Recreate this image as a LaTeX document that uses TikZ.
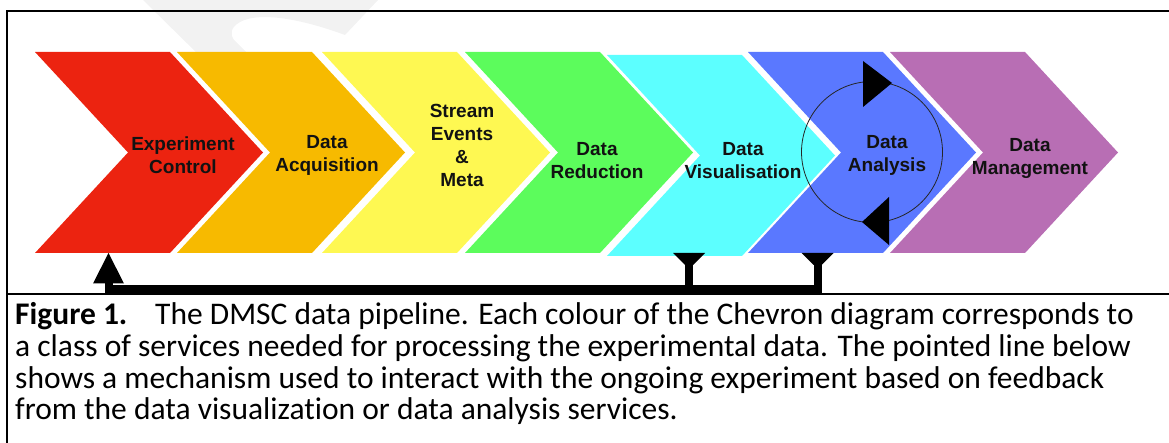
\documentclass[tikz,border=0pt]{standalone}
\usepackage{fontspec}
\setmainfont{Carlito}[RawFeature={-liga;-clig;-dlig;-calt}]
\newfontfamily\chevfont{Liberation Sans}
\definecolor{cred}{HTML}{EC2310}
\definecolor{corange}{HTML}{F7BA00}
\definecolor{cyellow}{HTML}{FEF852}
\definecolor{cgreen}{HTML}{5CFC5C}
\definecolor{ccyan}{HTML}{5CFFFF}
\definecolor{cblue}{HTML}{5A78FF}
\definecolor{cpurple}{HTML}{B86EB4}
\begin{document}
\begin{tikzpicture}[x=1pt,y=-1pt,
  lbl/.style={align=center,inner sep=0pt,text=black!93,font=\chevfont\bfseries\fontsize{19}{23}\selectfont},
  captxt/.style={anchor=base west,inner sep=0pt,font=\fontsize{31.5}{31.5}\selectfont},
  framestyle/.style={line width=2pt,black},
  fbline/.style={line width=8pt,black}]
\useasboundingbox (0,0) rectangle (1169,443);
% watermark
\fill[black,opacity=0.05] (143,0) -- (378,0) -- (345,35) .. controls (310,22) and (262,10) .. (240,22) .. controls (230,28) and (230,34) .. (234,40) -- (287,93) -- (262,117) -- cycle;
% chevrons: left x, top y
\newcommand{\chev}[3]{%
  \fill[#3] (#1,#2) -- ++(135,0) -- ++(93,100.5) -- ++(-93,100.5) -- ++(-135,0) -- ++(93,-100.5) -- cycle;}
\chev{35}{52}{cred}
\chev{177}{52}{corange}
\chev{322}{52}{cyellow}
\chev{465}{52}{cgreen}
\chev{607}{55}{ccyan}
\chev{748}{52}{cblue}
\chev{890}{52}{cpurple}
% labels
\node[lbl] (ec) at (183,155) {Experiment\\Control};
\node[lbl] (da) at (327,155) {Data\\Acquisition};
\node[lbl] (se) at (462,145) {Stream\\Events\\\&\\Meta};
\node[lbl] (dr) at (597,161) {Data\\Reduction};
\node[lbl] (dv) at (743,161) {Data\\Visualisation};
\node[lbl] (dan) at (887,155) {Data\\Analysis};
\node[lbl] (dm) at (1030,158) {Data\\Management};
% analysis loop
\node[draw=black!85,line width=0.8pt,circle,minimum size=141pt,inner sep=0pt] (loop) at (872,152) {};
\fill (863,61) -- (892,83) -- (863,107) -- cycle;
\fill (889,197) -- (862,222) -- (889,245) -- cycle;
% feedback line
\coordinate (ecb) at (108.5,253);
\coordinate (dvb) at (689,253);
\coordinate (danb) at (817.5,253);
\coordinate (corner) at (108.5,289);
\coordinate (dvj) at (689,289);
\coordinate (danj) at (817.5,289);
\draw[fbline] (danb) -- (danj) -- (corner) -- (108.5,280);
\draw[fbline] (dvb) -- (dvj);
\fill (93,283.5) -- (124,283.5) -- (ecb) -- cycle;
\fill (673,253) -- (705,253) -- (693,265) -- (685,265) -- cycle;
\fill (801.5,253) -- (833.5,253) -- (821.5,265) -- (813.5,265) -- cycle;
% frame
\draw[framestyle] (7,443) -- (7,11) -- (1169,11);
\draw[framestyle] (7,293.7) -- (1169,293.7);
% caption
\node[captxt] (c1a) at (15,325) {\textbf{Figure 1.}};
\node[captxt] (c1b) at (155,325) {The DMSC data pipeline. Each colour of the Chevron diagram corresponds to};
\node[captxt] (c2) at (15,356.5) {a class of services needed for processing the experimental data. The pointed line below};
\node[captxt] (c3) at (15,388) {shows a mechanism used to interact with the ongoing experiment based on feedback};
\node[captxt] (c4) at (15,419) {from the data visualization or data analysis services.};
\end{tikzpicture}
\end{document}
